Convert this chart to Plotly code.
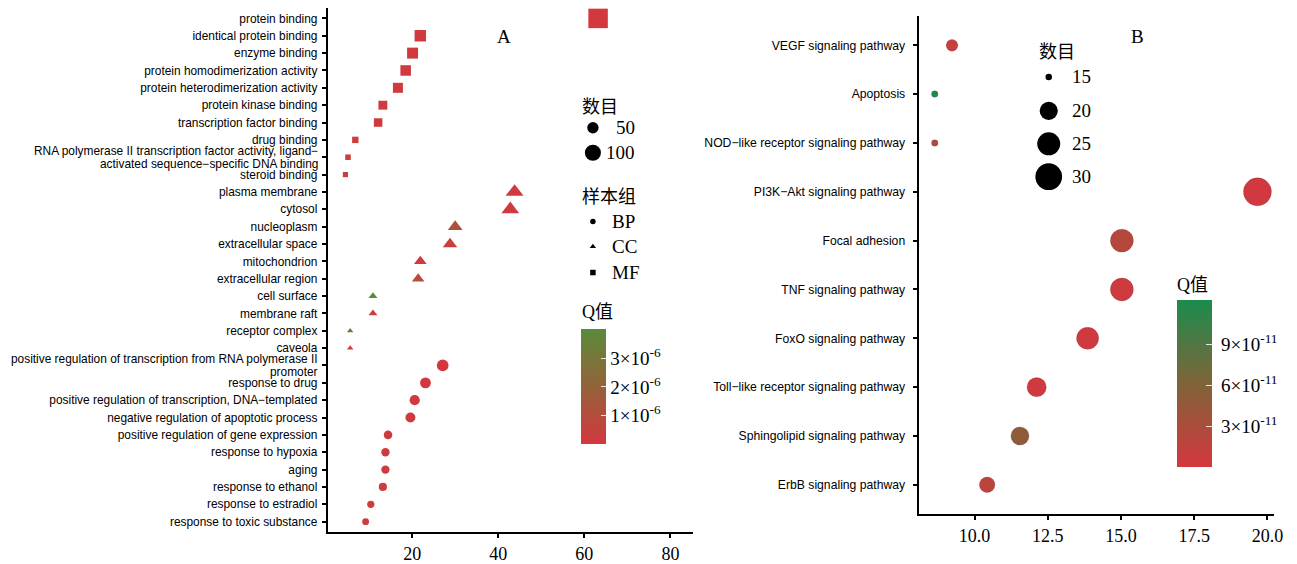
import plotly.graph_objects as go

W, H = 1297, 564       # browser window
OFF_Y = 8              # vertical page offset of the plot inside the written html
FW, FH = W, H - OFF_Y

# ---------------- Panel A data (GO enrichment) ----------------
go_terms = [
    "protein binding",
    "identical protein binding",
    "enzyme binding",
    "protein homodimerization activity",
    "protein heterodimerization activity",
    "protein kinase binding",
    "transcription factor binding",
    "drug binding",
    "RNA polymerase II transcription factor activity, ligand\u2212<br>activated sequence\u2212specific DNA binding",
    "steroid binding",
    "plasma membrane",
    "cytosol",
    "nucleoplasm",
    "extracellular space",
    "mitochondrion",
    "extracellular region",
    "cell surface",
    "membrane raft",
    "receptor complex",
    "caveola",
    "positive regulation of transcription from RNA polymerase II<br>promoter",
    "response to drug",
    "positive regulation of transcription, DNA\u2212templated",
    "negative regulation of apoptotic process",
    "positive regulation of gene expression",
    "response to hypoxia",
    "aging",
    "response to ethanol",
    "response to estradiol",
    "response to toxic substance",
]
go_groups = ["MF"] * 10 + ["CC"] * 10 + ["BP"] * 10
go_counts = [63.2, 21.9, 20.1, 18.5, 16.7, 13.2, 12.1, 6.8, 5.1, 4.5,
             43.8, 42.8, 30.0, 28.8, 21.9, 21.4, 10.9, 10.9, 5.6, 5.6,
             27.1, 23.1, 20.6, 19.6, 14.4, 13.8, 13.8, 13.2, 10.4, 9.2]
go_qvalues = [0.03e-6, 0.08e-6, 0.10e-6, 0.10e-6, 0.15e-6, 0.12e-6, 0.18e-6, 0.25e-6, 0.25e-6, 0.30e-6,
              0.10e-6, 0.15e-6, 1.20e-6, 0.30e-6, 0.20e-6, 1.00e-6, 4.00e-6, 0.35e-6, 3.30e-6, 0.35e-6,
              0.10e-6, 0.10e-6, 0.12e-6, 0.15e-6, 0.20e-6, 0.20e-6, 0.20e-6, 0.25e-6, 0.25e-6, 0.30e-6]

# ---------------- Panel B data (KEGG enrichment) ----------------
kegg_terms = [
    "VEGF signaling pathway",
    "Apoptosis",
    "NOD\u2212like receptor signaling pathway",
    "PI3K\u2212Akt signaling pathway",
    "Focal adhesion",
    "TNF signaling pathway",
    "FoxO signaling pathway",
    "Toll\u2212like receptor signaling pathway",
    "Sphingolipid signaling pathway",
    "ErbB signaling pathway",
]
kegg_x = [9.23, 8.64, 8.64, 19.66, 15.03, 15.03, 13.86, 12.12, 11.55, 10.43]
kegg_counts = [16, 15, 15, 32, 25, 25, 24, 21, 20, 18]
kegg_qvalues = [1.0e-11, 12.2e-11, 2.8e-11, 0.2e-11, 2.2e-11, 0.5e-11, 0.3e-11, 0.4e-11, 5.0e-11, 1.8e-11]

size_legend_a = [50, 100]
size_legend_b = [15, 20, 25, 30]
group_names = ["BP", "CC", "MF"]
qticks_a = [1e-6, 2e-6, 3e-6]
qtick_text_a = ["1\u00d710<sup>-6</sup>", "2\u00d710<sup>-6</sup>", "3\u00d710<sup>-6</sup>"]
qticks_b = [3e-11, 6e-11, 9e-11]
qtick_text_b = [" 3\u00d710<sup>-11</sup>", " 6\u00d710<sup>-11</sup>", " 9\u00d710<sup>-11</sup>"]

SERIF = "Liberation Serif, Times New Roman, serif"
SANS = "Liberation Sans, Arial, sans-serif"
CJK = "Liberation Serif, Noto Sans CJK SC, serif"
LABEL_A = 11.9


def px_x(x):
    """page pixel x -> paper fraction"""
    return x / FW


def px_y(y):
    """page pixel y (from top) -> paper fraction"""
    return 1 - (y - OFF_Y) / FH


def kegg_size(c, cmin=15, cmax=32):
    frac = max(0.0, (c - cmin) / (cmax - cmin))
    return 6.5 + 21.5 * frac ** 0.5


fig = go.Figure()

# Panel A traces, one per ontology group (area-scaled marker sizes)
shape_of = {"BP": "circle", "CC": "triangle-up", "MF": "square"}
scale_of = {"BP": 2.25, "CC": 2.36, "MF": 2.45}
for g in ["MF", "CC", "BP"]:
    idx = [i for i, gg in enumerate(go_groups) if gg == g]
    fig.add_trace(go.Scatter(
        x=[go_counts[i] for i in idx],
        y=[go_terms[i] for i in idx],
        mode="markers",
        marker=dict(
            symbol=shape_of[g],
            size=[go_counts[i] for i in idx],
            sizemode="area",
            sizeref=2.0 / scale_of[g] ** 2,
            color=[go_qvalues[i] for i in idx],
            coloraxis="coloraxis",
            opacity=1,
            line=dict(width=0),
        ),
        xaxis="x", yaxis="y", showlegend=False, cliponaxis=False,
    ))

# Panel B trace
fig.add_trace(go.Scatter(
    x=kegg_x, y=kegg_terms, mode="markers",
    marker=dict(
        symbol="circle",
        size=[kegg_size(c) for c in kegg_counts],
        color=kegg_qvalues,
        coloraxis="coloraxis2",
        opacity=1,
        line=dict(width=0.6, color="rgba(90,30,30,0.35)"),
    ),
    xaxis="x2", yaxis="y2", showlegend=False, cliponaxis=False,
))

# ---------- hand-built legends on a pixel overlay axis ----------
for v, yy in zip(size_legend_a, [128, 153]):
    fig.add_trace(go.Scatter(x=[589], y=[yy], mode="markers",
                             marker=dict(symbol="circle", size=1.6 * v ** 0.5, color="black", opacity=1),
                             xaxis="x3", yaxis="y3", showlegend=False, hoverinfo="skip"))
for g, yy in zip(group_names, [222, 247, 273]):
    fig.add_trace(go.Scatter(x=[589], y=[yy], mode="markers",
                             marker=dict(symbol=shape_of[g], size=5.5, color="black", opacity=1),
                             xaxis="x3", yaxis="y3", showlegend=False, hoverinfo="skip"))
for v, yy in zip(size_legend_b, [77, 111, 144, 177]):
    fig.add_trace(go.Scatter(x=[1048], y=[yy], mode="markers",
                             marker=dict(symbol="circle", size=kegg_size(v), color="black", opacity=1),
                             xaxis="x3", yaxis="y3", showlegend=False, hoverinfo="skip"))

annotations = []


def add_text(text, x, y, anchor="left", size=18, family=SERIF):
    annotations.append(dict(text=text, x=px_x(x), y=px_y(y), xref="paper", yref="paper",
                            xanchor=anchor, yanchor="middle", showarrow=False,
                            font=dict(family=family, size=size, color="black")))


add_text("A", 499, 37, anchor="center", size=19)
add_text("B", 1137, 37, anchor="center", size=19)
add_text("数目", 576, 107, family=CJK)
for v, yy in zip(size_legend_a, [128, 153]):
    add_text(str(v), 633, yy, anchor="right", size=19)
add_text("样本组", 576, 197, family=CJK)
for g, yy in zip(group_names, [222, 247, 273]):
    add_text(g, 606, yy, size=19)
add_text("Q值", 576, 313, family=CJK)
add_text("数目", 1036, 52, family=CJK)
for v, yy in zip(size_legend_b, [77, 111, 144, 177]):
    add_text(str(v), 1069, yy, size=19)
add_text("Q值", 1175, 285, family=CJK)

# Two-line GO labels: drawn line by line with tight leading (as in the reference)
go_ticktext = []
for term in go_terms:
    if "<br>" in term:
        go_ticktext.append(" ")
        lines = term.split("<br>")
        for k, line in enumerate(lines):
            annotations.append(dict(
                text=line, xref="x domain", x=0, yref="y", y=term,
                xanchor="right", yanchor="middle", xshift=-8,
                yshift=6.3 - 12.6 * k, showarrow=False,
                font=dict(family=SANS, size=LABEL_A, color="black")))
    else:
        go_ticktext.append(term)

colorscale_a = [[0.0, "#D4373F"], [0.5, "#93633A"], [1.0, "#5A8B3B"]]
colorscale_b = [[0.0, "#D4373F"], [0.5, "#7F6438"], [1.0, "#1B8C4D"]]

axis_common = dict(showline=True, linecolor="black", linewidth=2, ticks="outside",
                   ticklen=4, tickwidth=1.5, tickcolor="black", showgrid=False,
                   zeroline=False, mirror=False)

fig.update_layout(
    width=FW, height=FH,
    margin=dict(l=0, r=0, t=0, b=0),
    paper_bgcolor="white", plot_bgcolor="rgba(0,0,0,0)",
    showlegend=False,
    xaxis=dict(domain=[px_x(322), px_x(690)], range=[0.4, 85.3], anchor="y",
               tickvals=[20, 40, 60, 80],
               tickfont=dict(family=SERIF, size=18, color="black"), **axis_common),
    yaxis=dict(domain=[px_y(533), px_y(8)], anchor="x", type="category",
               categoryorder="array", categoryarray=go_terms,
               tickvals=go_terms, ticktext=go_ticktext, ticklabelstandoff=2,
               range=[len(go_terms) - 1 + 0.6, -0.6],
               tickfont=dict(family=SANS, size=LABEL_A, color="black"), **axis_common),
    xaxis2=dict(domain=[px_x(917), px_x(1275)], range=[8.09, 20.23], anchor="y2",
                tickvals=[10, 12.5, 15, 17.5, 20], tickformat=".1f",
                tickfont=dict(family=SERIF, size=18, color="black"), **axis_common),
    yaxis2=dict(domain=[px_y(515), px_y(16)], anchor="x2", type="category",
                categoryorder="array", categoryarray=kegg_terms,
                range=[len(kegg_terms) - 1 + 0.6, -0.6], ticklabelstandoff=5,
                tickfont=dict(family=SANS, size=12.2, color="black"), **axis_common),
    xaxis3=dict(domain=[0, 1], range=[0, W], anchor="y3", visible=False, fixedrange=True),
    yaxis3=dict(domain=[0, 1], range=[H, OFF_Y], anchor="x3", visible=False, fixedrange=True),
    coloraxis=dict(
        colorscale=colorscale_a, cmin=0, cmax=4.0e-6,
        colorbar=dict(x=px_x(577), xanchor="left", y=px_y(330), yanchor="top",
                      len=115, lenmode="pixels", thickness=25, thicknessmode="pixels",
                      xpad=0, ypad=0, outlinewidth=0,
                      tickvals=qticks_a, ticktext=qtick_text_a,
                      ticks="inside", ticklen=5, tickwidth=1, tickcolor="rgba(255,255,255,0.85)",
                      tickfont=dict(family=SERIF, size=19, color="black")),
    ),
    coloraxis2=dict(
        colorscale=colorscale_b, cmin=0, cmax=12.2e-11,
        colorbar=dict(x=px_x(1177), xanchor="left", y=px_y(301), yanchor="top",
                      len=167, lenmode="pixels", thickness=35, thicknessmode="pixels",
                      xpad=0, ypad=0, outlinewidth=0,
                      tickvals=qticks_b, ticktext=qtick_text_b,
                      ticks="inside", ticklen=6, tickwidth=1, tickcolor="rgba(255,255,255,0.85)",
                      tickfont=dict(family=SERIF, size=19, color="black")),
    ),
    annotations=annotations,
)

fig.write_html("out.html")
